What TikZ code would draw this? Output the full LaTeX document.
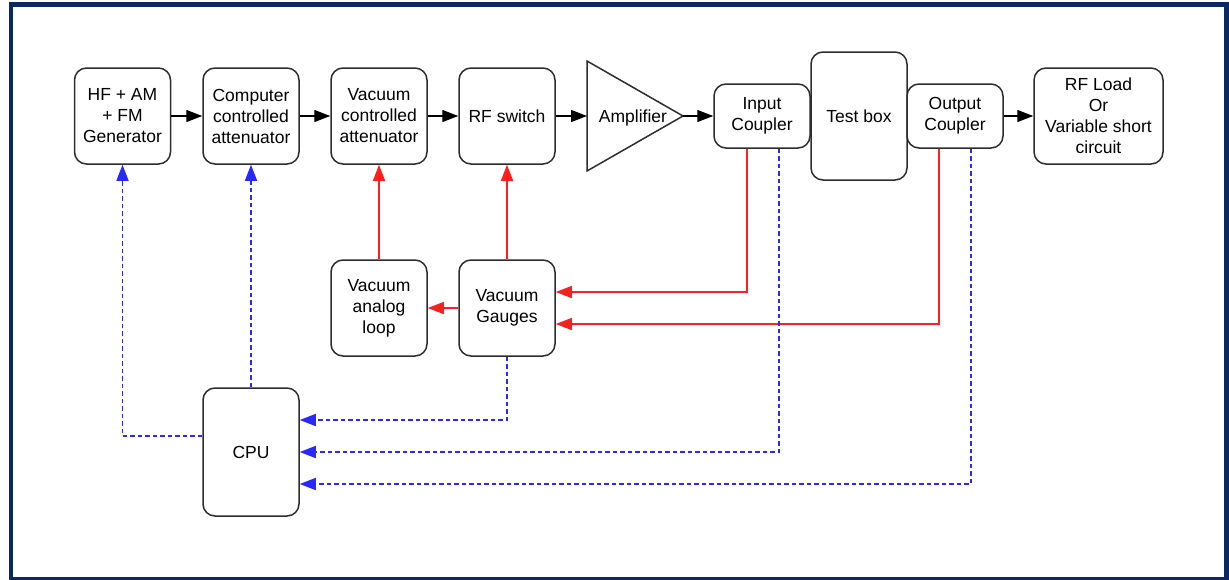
\documentclass[tikz,border=0pt]{standalone}
\usepackage{fontspec}
\setmainfont{Liberation Sans}
\usetikzlibrary{positioning, calc, arrows.meta}
\definecolor{framenavy}{RGB}{12,40,100}
\definecolor{boxgray}{RGB}{45,45,45}
\definecolor{ctrlred}{RGB}{255,30,30}
\definecolor{datablue}{RGB}{40,40,255}

\begin{document}
\begin{tikzpicture}[x=1pt, y=-1pt]%
        \tikzstyle{block}=[draw=boxgray, line width=1.5pt, rounded corners=12pt, minimum width=96pt, minimum height=96pt, inner sep=0pt, align=center, font=\fontsize{17.5}{21}\selectfont];%
        \tikzstyle{sig}=[line width=1.3pt, -{Triangle[length=16pt, width=12pt]}];%
        \tikzstyle{ctrl}=[sig, ctrlred];%
        \tikzstyle{data}=[sig, datablue, line width=1.6pt, dash pattern=on 4.5pt off 3pt];%
        \useasboundingbox (0, 0) rectangle (1229, 579);
        \draw[framenavy, line width=4.5pt] (11, 4.5) rectangle (1226.5, 579.5);

        % main chain
        \node[block] (gen) at (122.5, 116) {HF + AM\\+ FM\\Generator};
        \node[block] (att) at (251, 116) {Computer\\controlled\\attenuator};
        \node[block] (vca) at (379, 116) {Vacuum\\controlled\\attenuator};
        \node[block] (sw) at (507, 116) {RF switch};

        \coordinate (ampin) at (587, 116);
        \coordinate (ampout) at (683, 116);
        \draw[draw=boxgray, line width=1.5pt] (587, 61) -- (ampout) -- (587, 171) -- cycle;
        \node[font=\fontsize{17.5}{21}\selectfont] (amp) at (633, 118) {Amplifier};

        \node[block, minimum height=64pt] (ic) at (762, 116) {Input\\Coupler};
        \node[block, minimum height=128pt] (tb) at (859, 116) {Test box};
        \node[block, minimum height=64pt] (oc) at (955, 116) {Output\\Coupler};
        \node[block, minimum width=129pt] (load) at (1098.5, 116) {RF Load\\Or\\Variable short\\circuit};

        % control part
        \node[block] (loop) at (379, 308) {Vacuum\\analog\\loop};
        \node[block] (vg) at (507, 308) {Vacuum\\Gauges};
        \node[block, minimum height=128pt] (cpu) at (251, 452) {CPU};

        \draw[sig] (gen.east) -- (att.west);
        \draw[sig] (att.east) -- (vca.west);
        \draw[sig] (vca.east) -- (sw.west);
        \draw[sig] (sw.east) -- (ampin);
        \draw[sig] (ampout) -- (ic.west);
        \draw[sig] (oc.east) -- (load.west);

        \draw[ctrl] (loop.north) -- (vca.south);
        \draw[ctrl] (vg.north) -- (sw.south);
        \draw[ctrl] (vg.west) -- (loop.east);
        \draw[ctrl] ([xshift=-15pt]ic.south) |- ([yshift=16pt]vg.east);
        \draw[ctrl] ([xshift=-16pt]oc.south) |- ([yshift=-16pt]vg.east);

        \draw[data] (cpu.north) -- (att.south);
        \draw[data] ([yshift=16pt]cpu.west) -| (gen.south);
        \draw[data] (vg.south) |- ([yshift=32pt]cpu.east);
        \draw[data] ([xshift=17pt]ic.south) |- (cpu.east);
        \draw[data] ([xshift=16pt]oc.south) |- ([yshift=-32pt]cpu.east);
    \end{tikzpicture}
\end{document}
